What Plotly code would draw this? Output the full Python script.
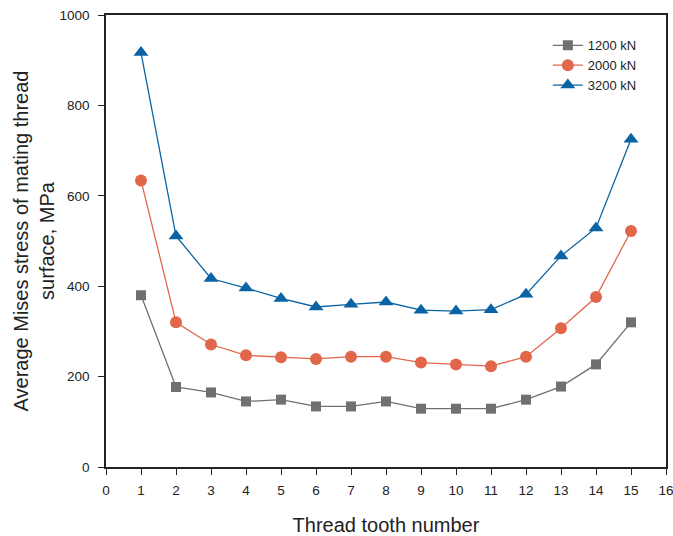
import plotly.graph_objects as go

teeth = list(range(1, 16))
s1200 = [380, 177, 165, 145, 149, 134, 134, 145, 129, 129, 129, 149, 178, 227, 320]
s2000 = [634, 320, 271, 247, 243, 239, 244, 244, 231, 227, 223, 244, 307, 376, 522]
s3200 = [917, 511, 417, 396, 373, 354, 360, 365, 347, 345, 348, 382, 467, 529, 725]
series_names = ["1200 kN", "2000 kN", "3200 kN"]
x_ticks = list(range(0, 17))
y_ticks = [0, 200, 400, 600, 800, 1000]

colors = ["#707070", "#e2674a", "#0a64a4"]
symbols = ["square", "circle", "triangle-up"]
sizes = [10, 12, 13]

fig = go.Figure()
for name, vals, c, sym, sz in zip(series_names, [s1200, s2000, s3200], colors, symbols, sizes):
    fig.add_trace(go.Scatter(
        x=teeth, y=vals, name=name, mode="lines+markers",
        line=dict(color=c, width=1.3),
        marker=dict(symbol=sym, size=sz, color=c),
    ))

fig.update_layout(
    width=673, height=536,
    margin=dict(l=106, r=7, t=15, b=69),
    paper_bgcolor="white", plot_bgcolor="white",
    font=dict(family="Liberation Sans, Arial, sans-serif", color="#222222", size=13),
    showlegend=True,
    legend=dict(x=0.789, y=0.966, xanchor="left", yanchor="top",
                bgcolor="rgba(0,0,0,0)", font=dict(size=13),
                tracegroupgap=0),
)
fig.update_xaxes(
    range=[0, 16], tickmode="array", tickvals=x_ticks,
    ticks="outside", ticklen=6, tickcolor="#222", tickwidth=1.2,
    showline=True, linecolor="#222", linewidth=1.5, mirror=True,
    showgrid=False, zeroline=False, automargin=False,
    ticklabeloverflow="allow",
    title=dict(text="Thread tooth number", font=dict(size=20), standoff=26),
    tickfont=dict(size=13.5), ticklabelstandoff=4,
)
fig.update_yaxes(
    range=[0, 1000], tickmode="array", tickvals=y_ticks,
    ticks="outside", ticklen=6, tickcolor="#222", tickwidth=1.2,
    showline=True, linecolor="#222", linewidth=1.5, mirror=True,
    showgrid=False, zeroline=False, automargin=False,
    title=dict(text="Average Mises stress of mating thread<br>surface, MPa", font=dict(size=20), standoff=0),
    tickfont=dict(size=13.5), ticklabelstandoff=6,
)

fig.write_html("out.html")
